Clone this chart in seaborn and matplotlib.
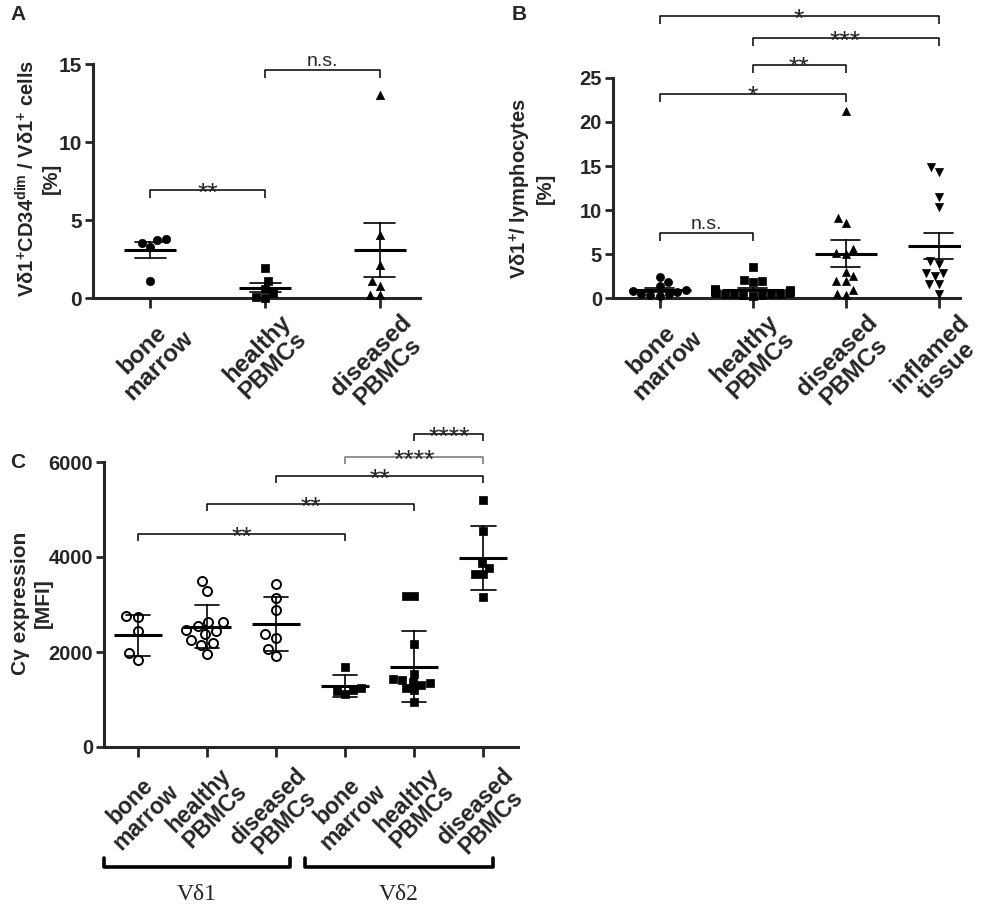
import pandas as pd
import seaborn as sns
import matplotlib.pyplot as plt
from matplotlib.lines import Line2D

sns.set_style("ticks")
plt.rcParams["font.family"] = ["Liberation Sans", "DejaVu Sans"]
plt.rcParams["font.weight"] = "bold"
plt.rcParams["mathtext.fontset"] = "custom"
plt.rcParams["mathtext.rm"] = "Liberation Sans:bold"
plt.rcParams["mathtext.bf"] = "Liberation Sans:bold"
plt.rcParams["mathtext.it"] = "Liberation Sans:bold"
plt.rcParams["mathtext.default"] = "bf"

W, H = 992, 910

# panel A: Vd1+CD34dim / Vd1+ cells [%]
a_keys = ["bone\nmarrow", "healthy\nPBMCs", "diseased\nPBMCs"]
a_bone = [3.78, 3.53, 3.27, 3.70, 1.11]
a_healthy = [1.92, 1.11, 0.58, 0.32, 0.0, 0.04]
a_diseased = [13.0, 4.06, 2.09, 0.79, 1.11, 0.2, 0.2]
a_marks = ["o", "s", "^"]
a_pairs = [(0, 1), (1, 2)]
a_heights = [6.9, 14.6]
a_stars = ["**", "n.s."]

# panel B: Vd1+ / lymphocytes [%]
b_keys = ["bone\nmarrow", "healthy\nPBMCs", "diseased\nPBMCs", "inflamed\ntissue"]
b_bone = [2.4, 1.8, 1.4, 0.9, 0.8, 0.7, 0.5, 0.4, 0.3, 0.2]
b_healthy = [3.5, 2.0, 1.9, 1.8, 1.0, 0.9, 0.9, 0.8, 0.8, 0.7,
             0.7, 0.6, 0.6, 0.5, 0.5, 0.4, 0.4, 0.3, 0.3, 0.2]
b_diseased = [21.2, 9.1, 8.5, 5.6, 5.0, 5.15, 2.95, 2.45, 1.9, 1.9, 0.87, 0.5, 0.3]
b_inflamed = [14.3, 14.9, 11.5, 10.3, 4.2, 3.9, 2.8, 2.5, 2.8, 1.6, 1.6, 0.5]
b_marks = ["o", "s", "^", "v"]
b_pairs = [(0, 1), (0, 2), (1, 2), (1, 3), (0, 3)]
b_heights = [7.4, 23.2, 26.5, 29.5, 32.0]
b_stars = ["n.s.", "*", "**", "***", "*"]

# panel C: Cgamma expression [MFI]
c_keys = ["d1_bm", "d1_hp", "d1_dp", "d2_bm", "d2_hp", "d2_dp"]
c_ticks = ["bone\nmarrow", "healthy\nPBMCs", "diseased\nPBMCs"] * 2
c_d1_bone = [2737, 2751, 2442, 1839, 1979]
c_d1_healthy = [3490, 3280, 2630, 2630, 2540, 2470, 2440, 2370, 2260, 2190, 2150, 1950]
c_d1_diseased = [3440, 3145, 2875, 2385, 2300, 2070, 1915]
c_d2_bone = [1685, 1205, 1125, 1180, 1250]
c_d2_healthy = [3180, 3180, 2175, 1545, 1440, 1405, 1370, 1345, 1300, 1250, 1195, 945]
c_d2_diseased = [5205, 4540, 3875, 3770, 3650, 3635, 3160]
c_pairs = [(0, 3), (1, 4), (2, 5), (3, 5), (4, 5)]
c_heights = [4480, 5115, 5705, 6105, 6590]
c_stars = ["**", "**", "**", "****", "****"]
c_colors = ["black", "black", "black", "0.45", "black"]
c_groups = ["Vδ1", "Vδ2"]

fig = plt.figure(figsize=(W / 100, H / 100), dpi=100)


def px_axes(left, top, right, bottom):
    return fig.add_axes([left / W, 1 - bottom / H, (right - left) / W, (bottom - top) / H])


def draw_groups(ax, keys, groups, marks, face, size, lw, err, mean_len, cap):
    df = pd.concat([pd.DataFrame({"group": k, "value": v}) for k, v in zip(keys, groups)],
                   ignore_index=True)
    for k, m in zip(keys, marks):
        sns.swarmplot(data=df[df["group"] == k], x="group", y="value", order=keys,
                      marker=m, size=size, color=face, edgecolor="black", linewidth=lw,
                      ax=ax, zorder=3, clip_on=False, warn_thresh=1)
    sns.pointplot(data=df, x="group", y="value", order=keys, errorbar=err, capsize=cap,
                  color="black", marker="_", linestyle="none", markersize=mean_len,
                  markeredgewidth=2.2, err_kws={"linewidth": 1.2, "zorder": 4},
                  ax=ax, zorder=4)


def bracket(ax, pair, y, drop, text, color="black"):
    x1, x2 = pair
    ax.plot([x1, x1, x2, x2], [y - drop, y, y, y - drop], color=color, lw=1.1,
            clip_on=False, solid_capstyle="butt")
    if "*" in text:
        fs, off = 19, -7.5
    else:
        fs, off = 14, 3
    ax.annotate(text, xy=((x1 + x2) / 2, y), xytext=(0, off), textcoords="offset points",
                ha="center", va="baseline", fontsize=fs, fontweight="normal",
                annotation_clip=False)


def style_axis(ax, xlim, ylim, yticks, labels, xfs, yfs, pad):
    ax.set_xlim(*xlim)
    ax.set_ylim(*ylim)
    ax.set_yticks(yticks)
    ax.set_xticks(range(len(labels)))
    ax.set_xticklabels(labels, rotation=45, ha="center", va="top", fontsize=xfs,
                       fontweight="bold", linespacing=1.0)
    ax.set_xlabel("")
    ax.set_ylabel("")
    for s in ["top", "right"]:
        ax.spines[s].set_visible(False)
    for s in ["left", "bottom"]:
        ax.spines[s].set_linewidth(2.2)
    ax.tick_params(axis="y", width=2, length=6, labelsize=yfs, pad=2)
    ax.tick_params(axis="x", width=2, length=7, pad=pad)


# ---- A
axA = px_axes(93, 64, 420, 298)
draw_groups(axA, a_keys, [a_bone, a_healthy, a_diseased], a_marks, "black", 6, 0.5,
            "se", 37, 0.27)
style_axis(axA, (-0.5, 2.35), (0, 15), [0, 5, 10, 15], a_keys, 17.5, 15, 2)
for p, h, s in zip(a_pairs, a_heights, a_stars):
    bracket(axA, p, h, 0.5, s)
fig.text(38 / W, 1 - 178 / H, "Vδ1$^{+}$CD34$^{dim}$ / Vδ1$^{+}$ cells\n[%]",
         rotation=90, ha="center", va="center", fontsize=14.5, multialignment="center")
fig.text(10 / W, 1 - 15 / H, "A", fontsize=15, va="center")

# ---- B
axB = px_axes(613, 78, 960, 298)
draw_groups(axB, b_keys, [b_bone, b_healthy, b_diseased, b_inflamed], b_marks, "black",
            5.8, 0.5, "se", 45, 0.32)
style_axis(axB, (-0.5, 3.23), (0, 25), [0, 5, 10, 15, 20, 25], b_keys, 17.5, 14.5, 2)
for p, h, s in zip(b_pairs, b_heights, b_stars):
    bracket(axB, p, h, 0.9, s)
fig.text(531 / W, 1 - 188 / H, "Vδ1$^{+}$/ lymphocytes\n[%]",
         rotation=90, ha="center", va="center", fontsize=14.5, multialignment="center")
fig.text(512 / W, 1 - 15 / H, "B", fontsize=15, va="center")

# ---- C
axC = px_axes(104, 462, 518, 747)
draw_groups(axC, c_keys[:3], [c_d1_bone, c_d1_healthy, c_d1_diseased], ["o"] * 3, "white",
            6.5, 1.4, "sd", 34, 0.35)
# the Vd2 groups share the same categorical axis
df2 = pd.concat([pd.DataFrame({"group": k, "value": v}) for k, v in
                 zip(c_keys, [[], [], [], c_d2_bone, c_d2_healthy, c_d2_diseased])],
                ignore_index=True)
for k in c_keys[3:]:
    sns.swarmplot(data=df2[df2["group"] == k], x="group", y="value", order=c_keys,
                  marker="s", size=5.5, color="black", edgecolor="black", linewidth=0.5,
                  ax=axC, zorder=3, clip_on=False, warn_thresh=1)
sns.pointplot(data=df2, x="group", y="value", order=c_keys, errorbar="sd", capsize=0.35,
              color="black", marker="_", linestyle="none", markersize=34,
              markeredgewidth=2.2, err_kws={"linewidth": 1.2, "zorder": 4}, ax=axC, zorder=4)
style_axis(axC, (-0.49, 5.5), (0, 6000), [0, 2000, 4000, 6000], c_ticks, 16.5, 14.5, 5)
for p, h, s, col in zip(c_pairs, c_heights, c_stars, c_colors):
    bracket(axC, p, h, 150, s, color=col)
fig.text(32 / W, 1 - 603 / H, "Cγ expression\n[MFI]",
         rotation=90, ha="center", va="center", fontsize=15, multialignment="center")
fig.text(10 / W, 1 - 462 / H, "C", fontsize=15, va="center")

# group brackets below panel C
for (x1, x2), name in zip([(104, 290), (305, 493)], c_groups):
    fig.add_artist(Line2D([x1 / W, x1 / W, x2 / W, x2 / W],
                          [1 - 858 / H, 1 - 867 / H, 1 - 867 / H, 1 - 858 / H],
                          color="black", lw=2.6))
    fig.text((x1 + x2) / 2 / W, 1 - 895 / H, name, family="Liberation Serif",
             fontweight="normal", fontsize=17, ha="center", va="center")

fig.savefig("out.png", dpi=100)
